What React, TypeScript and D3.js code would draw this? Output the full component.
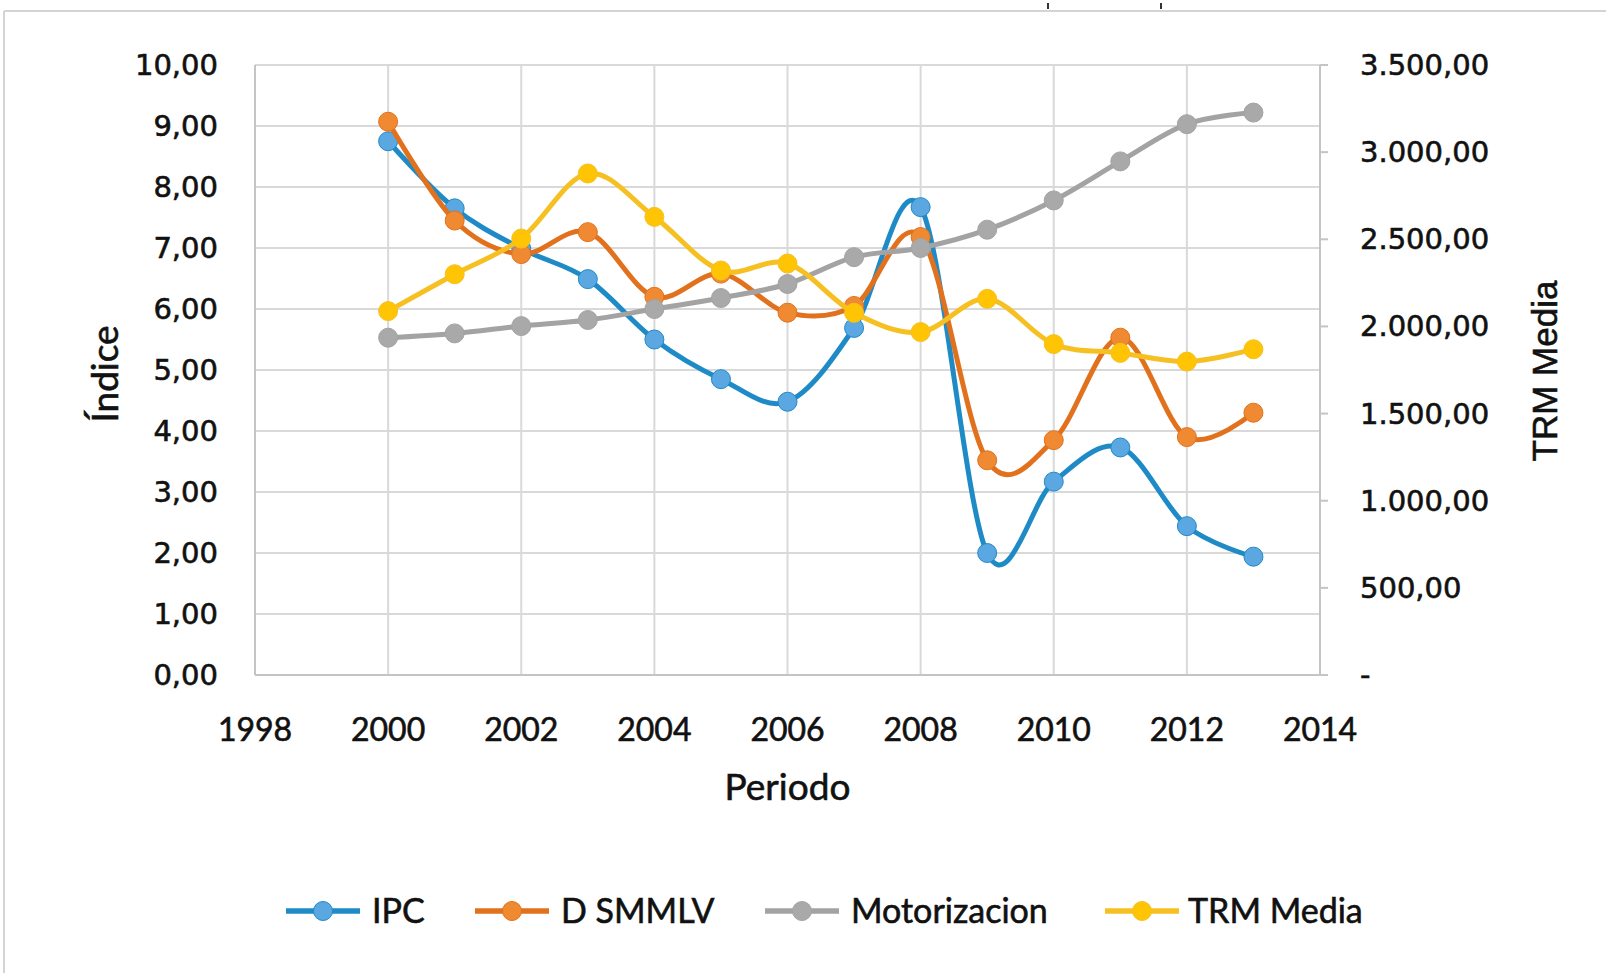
import React from 'react';
import * as d3 from 'd3';

// values
const years = [2000, 2001, 2002, 2003, 2004, 2005, 2006, 2007, 2008, 2009, 2010, 2011, 2012, 2013];
const ipc = [8.75, 7.65, 6.99, 6.49, 5.5, 4.85, 4.48, 5.69, 7.67, 2.0, 3.17, 3.73, 2.44, 1.94];
const dSmmlv = [9.07, 7.45, 6.9, 7.26, 6.2, 6.58, 5.94, 6.05, 7.18, 3.52, 3.85, 5.53, 3.9, 4.3];
const motorizacion = [5.53, 5.6, 5.72, 5.82, 6.0, 6.18, 6.41, 6.85, 7.0, 7.3, 7.78, 8.42, 9.03, 9.22];
const trmMedia = [2087.9, 2299.6, 2504.2, 2877.6, 2628.6, 2320.8, 2361.1, 2078.3, 1967.7, 2158.3, 1898.7, 1848.2, 1798.2, 1869.1];

const xTicks = [1998, 2000, 2002, 2004, 2006, 2008, 2010, 2012, 2014];
const leftTicks = [0, 1, 2, 3, 4, 5, 6, 7, 8, 9, 10];
const rightTicks = [0, 500, 1000, 1500, 2000, 2500, 3000, 3500];

const legendNames = ['IPC', 'D SMMLV', 'Motorizacion', 'TRM Media'];

const W = 1606;
const H = 973;
const plot = { left: 255, right: 1320, top: 65, bottom: 675 };

const es = d3.formatLocale({ decimal: ',', thousands: '.', grouping: [3], currency: ['$', ''] });
const fmt = es.format(',.2f');

// the reference text is a bit heavy (scanned look)
const ink = { fill: '#111', stroke: '#111', strokeWidth: 0.6 };

const App = () => {
  const x = d3.scaleLinear().domain([1998, 2014]).range([plot.left, plot.right]);
  const yL = d3.scaleLinear().domain([0, 10]).range([plot.bottom, plot.top]);
  const yR = d3.scaleLinear().domain([0, 3500]).range([plot.bottom, plot.top]);

  const series = [
    { name: legendNames[0], values: ipc, y: yL, line: '#1f8bc6', dot: '#5aa7e2' },
    { name: legendNames[1], values: dSmmlv, y: yL, line: '#e2711d', dot: '#f08a32' },
    { name: legendNames[2], values: motorizacion, y: yL, line: '#a3a3a3', dot: '#a9a9a9' },
    { name: legendNames[3], values: trmMedia, y: yR, line: '#f6c023', dot: '#ffc505' },
  ];

  // Excel style smoothed lines
  const makePath = (s) =>
    d3.line()
      .x((d, i) => x(years[i]))
      .y(d => s.y(d))
      .curve(d3.curveCatmullRom.alpha(0))(s.values);

  const legendPos = [
    { x1: 286, x2: 360, cx: 323, tx: 372 },
    { x1: 475, x2: 549, cx: 512, tx: 561 },
    { x1: 765, x2: 839, cx: 802, tx: 851 },
    { x1: 1105, x2: 1179, cx: 1142, tx: 1188 },
  ];

  return (
    <svg width={W} height={H} style={{ position: 'absolute', left: 0, top: 0, background: '#fff' }}>
      {/* frame of the chart area */}
      <line x1={4} y1={11} x2={W} y2={11} stroke="#d4d4d4" strokeWidth={2} />
      <line x1={4} y1={11} x2={4} y2={H} stroke="#d4d4d4" strokeWidth={2} />
      {/* leftovers of a cut off title */}
      <line x1={1048} y1={3} x2={1048} y2={9} stroke="#333" strokeWidth={2} />
      <line x1={1161} y1={3} x2={1161} y2={9} stroke="#333" strokeWidth={2} />

      {/* grid */}
      {leftTicks.map(t => (
        <line key={'h' + t} x1={plot.left} x2={plot.right} y1={yL(t)} y2={yL(t)} stroke="#d9d9d9" strokeWidth={2} />
      ))}
      {xTicks.map(t => (
        <line key={'v' + t} x1={x(t)} x2={x(t)} y1={plot.top} y2={plot.bottom} stroke="#d9d9d9" strokeWidth={2} />
      ))}
      <line x1={plot.left} x2={plot.left} y1={plot.top} y2={plot.bottom} stroke="#c4c4c4" strokeWidth={2} />
      <line x1={plot.left} x2={plot.right} y1={plot.bottom} y2={plot.bottom} stroke="#c4c4c4" strokeWidth={2} />
      <line x1={plot.right} x2={plot.right} y1={plot.top} y2={plot.bottom} stroke="#c4c4c4" strokeWidth={2} />
      {rightTicks.map(t => (
        <line key={'rt' + t} x1={plot.right} x2={plot.right + 8} y1={yR(t)} y2={yR(t)} stroke="#c4c4c4" strokeWidth={2} />
      ))}

      {/* left axis labels */}
      {leftTicks.map(t => (
        <text key={'lt' + t} x={218} y={yL(t) + 10} textAnchor="end" fontFamily="'DejaVu Sans'" fontSize={29} {...ink}>
          {fmt(t)}
        </text>
      ))}
      {/* right axis labels */}
      {rightTicks.map(t => (
        <text key={'rl' + t} x={1360} y={yR(t) + 10} textAnchor="start" fontFamily="'DejaVu Sans'" fontSize={29} {...ink}>
          {t === 0 ? '-' : fmt(t)}
        </text>
      ))}
      {/* x axis labels */}
      {xTicks.map(t => (
        <text key={'xl' + t} x={x(t)} y={741} textAnchor="middle" fontFamily="Lato" fontSize={32} {...ink}>
          {t}
        </text>
      ))}

      <text x={(plot.left + plot.right) / 2} y={800} textAnchor="middle" fontFamily="Lato" fontSize={37} {...ink}>
        Periodo
      </text>
      <text transform="translate(118,374) rotate(-90)" textAnchor="middle" fontFamily="Lato" fontSize={37} {...ink}>
        Índice
      </text>
      <text transform="translate(1557,371) rotate(-90)" textAnchor="middle" fontFamily="'Liberation Sans'" fontSize={35} {...ink}>
        TRM Media
      </text>

      {/* series, one after the other like Excel */}
      {series.map(s => (
        <g key={s.name}>
          <path d={makePath(s)} fill="none" stroke={s.line} strokeWidth={5} />
          {s.values.map((v, i) => (
            <circle key={i} cx={x(years[i])} cy={s.y(v)} r={9.5} fill={s.dot} stroke={s.line} strokeWidth={1} />
          ))}
        </g>
      ))}

      {/* legend */}
      {series.map((s, i) => {
        const p = legendPos[i];
        return (
          <g key={'lg' + s.name}>
            <line x1={p.x1} x2={p.x2} y1={911} y2={911} stroke={s.line} strokeWidth={5.5} />
            <circle cx={p.cx} cy={911} r={9.5} fill={s.dot} stroke={s.line} strokeWidth={1} />
            <text x={p.tx} y={923} fontFamily="Lato" fontSize={34} {...ink}>{s.name}</text>
          </g>
        );
      })}
    </svg>
  );
};

export default App;
